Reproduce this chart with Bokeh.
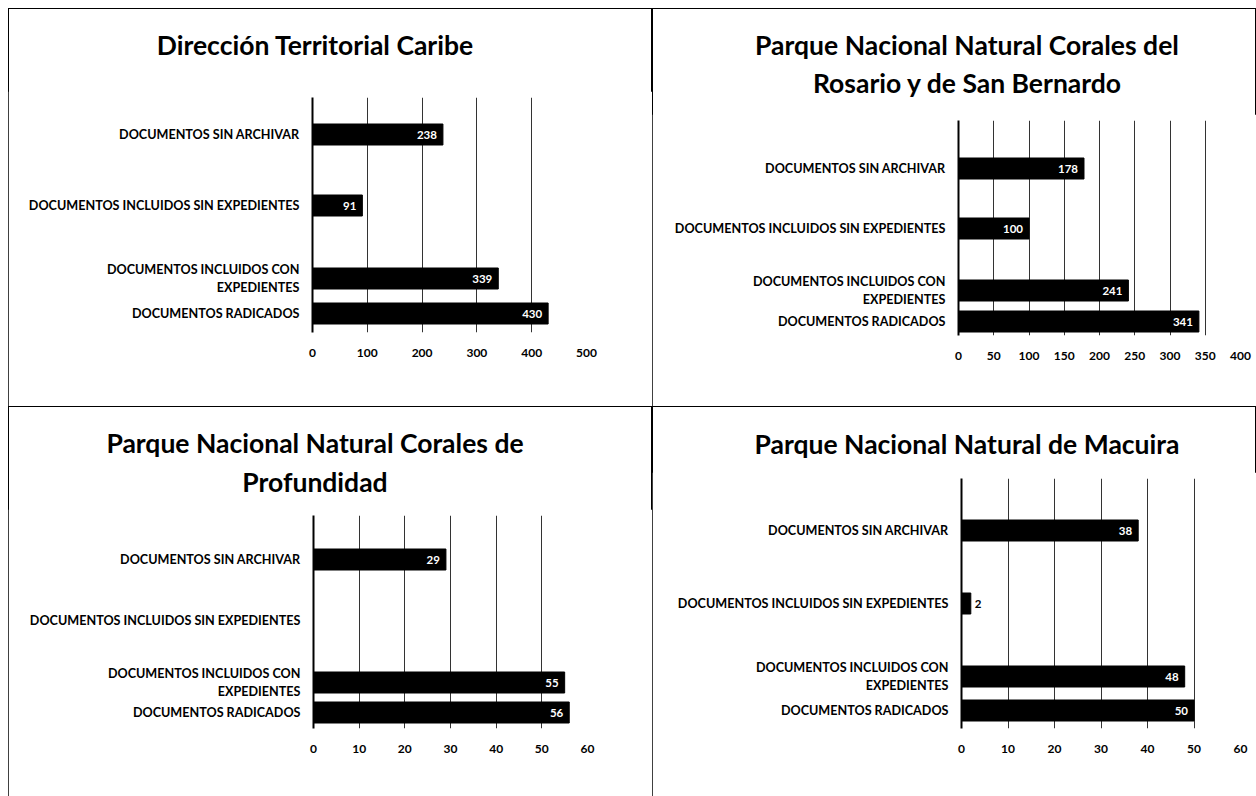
from bokeh.plotting import figure
from bokeh.layouts import column, row
from bokeh.models import Range1d, FixedTicker, ColumnDataSource, Spacer, Div
from bokeh.embed import file_html
from bokeh.resources import INLINE

# ---------------- data ----------------
categories = [
    "DOCUMENTOS SIN ARCHIVAR",
    "DOCUMENTOS INCLUIDOS SIN EXPEDIENTES",
    "DOCUMENTOS INCLUIDOS CON EXPEDIENTES",
    "DOCUMENTOS RADICADOS",
]
category_labels = [
    "DOCUMENTOS SIN ARCHIVAR",
    "DOCUMENTOS INCLUIDOS SIN EXPEDIENTES",
    "DOCUMENTOS INCLUIDOS CON\nEXPEDIENTES",
    "DOCUMENTOS RADICADOS",
]

title_caribe = ["Dirección Territorial Caribe"]
title_rosario = ["Parque Nacional Natural Corales del", "Rosario y de San Bernardo"]
title_profundidad = ["Parque Nacional Natural Corales de", "Profundidad"]
title_macuira = ["Parque Nacional Natural de Macuira"]

values_caribe = [238, 91, 339, 430]
values_rosario = [178, 100, 241, 341]
values_profundidad = [29, 0, 55, 56]
values_macuira = [38, 2, 48, 50]

ticks_caribe = [0, 100, 200, 300, 400, 500]
ticks_rosario = [0, 50, 100, 150, 200, 250, 300, 350, 400]
ticks_profundidad = [0, 10, 20, 30, 40, 50, 60]
ticks_macuira = [0, 10, 20, 30, 40, 50, 60]

# ---------------- layout (pixels) ----------------
FONT = "Lato"


def make_panel(title_lines, values, ticks, width, height, left, right, top, bottom,
               rows, title_cx, title_y0, title_lh):
    div_h = top - 6
    fig_h = height - div_h
    frame_h = fig_h - 6 - bottom
    frame_w = width - left - right
    ppu = frame_w / (ticks[-1] - ticks[0])

    pad_l = max(0, 2 * title_cx - width)
    pad_r = max(0, width - 2 * title_cx)
    html = "<br>".join(title_lines)
    div = Div(text=html, width=width, height=div_h, margin=0,
              styles={"font-family": FONT, "font-weight": "bold",
                      "font-size": "26.5px", "line-height": f"{title_lh}px",
                      "text-align": "center", "white-space": "nowrap",
                      "color": "black", "padding-top": f"{title_y0}px",
                      "padding-left": f"{pad_l}px", "padding-right": f"{pad_r}px",
                      "box-sizing": "border-box", "overflow": "visible"})

    p = figure(width=width, height=fig_h, output_backend="svg",
               toolbar_location=None, margin=0,
               x_range=Range1d(ticks[0], ticks[-1]),
               y_range=Range1d(0, frame_h),
               min_border_left=left, min_border_right=right,
               min_border_top=6, min_border_bottom=bottom)
    p.outline_line_color = None
    p.background_fill_color = "white"
    p.border_fill_color = "white"

    # x axis
    p.xaxis.ticker = FixedTicker(ticks=ticks)
    p.xaxis.axis_line_color = None
    p.xaxis.major_tick_line_color = None
    p.xaxis.minor_tick_line_color = None
    p.xaxis.major_tick_out = 0
    p.xaxis.major_tick_in = 0
    p.xaxis.major_label_standoff = 16
    p.xaxis.major_label_text_font = FONT
    p.xaxis.major_label_text_font_size = "12px"
    p.xaxis.major_label_text_font_style = "bold"
    p.xaxis.major_label_text_color = "black"

    # y axis (categories)
    p.yaxis.ticker = FixedTicker(ticks=rows)
    p.yaxis.major_label_overrides = {r: lab for r, lab in zip(rows, category_labels)}
    p.yaxis.axis_line_color = "black"
    p.yaxis.axis_line_width = 2
    p.yaxis.major_tick_line_color = None
    p.yaxis.minor_tick_line_color = None
    p.yaxis.major_tick_out = 0
    p.yaxis.major_tick_in = 0
    p.yaxis.major_label_standoff = 13
    p.yaxis.major_label_text_font = FONT
    p.yaxis.major_label_text_font_size = "12.6px"
    p.yaxis.major_label_text_font_style = "bold"
    p.yaxis.major_label_text_color = "black"

    # grid
    p.ygrid.grid_line_color = None
    p.xgrid.ticker = FixedTicker(ticks=ticks)
    p.xgrid.grid_line_color = "#333333"
    p.xgrid.grid_line_width = 1

    src = ColumnDataSource(dict(y=rows, v=values, cat=categories))
    p.hbar(y="y", left=0, right="v", height=21, source=src,
           fill_color="black", line_color="black")

    in_y, in_v, in_t, out_y, out_v, out_t = [], [], [], [], [], []
    for r, v in zip(rows, values):
        if v == 0:
            continue
        if v * ppu >= 24:
            in_y.append(r); in_v.append(v); in_t.append(str(v))
        else:
            out_y.append(r); out_v.append(v); out_t.append(str(v))
    p.text(x=in_v, y=in_y, text=in_t, x_offset=-6, text_align="right",
           text_baseline="middle", text_color="white", text_font_size="11.5px",
           text_font_style="bold", text_font={"value": FONT})
    if out_v:
        p.text(x=out_v, y=out_y, text=out_t, x_offset=4, text_align="left",
               text_baseline="middle", text_color="black", text_font_size="11.5px",
               text_font_style="bold", text_font={"value": FONT})

    panel = column(div, p, width=width, height=height, margin=0,
                   styles={"outline": "1px solid black", "outline-offset": "-1px",
                           "background-color": "white"})
    return panel


p1 = make_panel(title_caribe, values_caribe, ticks_caribe, 644, 398,
                304, 66, 89, 74, [198, 127, 54, 19], 307, 18, 38)
p2 = make_panel(title_rosario, values_rosario, ticks_rosario, 604, 398,
                306, 16, 112, 71, [167, 107, 45, 14], 315, 18, 38)
p3 = make_panel(title_profundidad, values_profundidad, ticks_profundidad, 644, 390,
                305, 65, 109, 68, [169, 108, 46, 16], 307, 18, 39)
p4 = make_panel(title_macuira, values_macuira, ticks_macuira, 604, 390,
                309, 16, 72, 68, [198, 125, 52, 18], 315, 19, 38)

grid = column(row(p1, p2), row(p3, p4))
page = column(Spacer(width=1256, height=8), row(Spacer(width=8, height=788), grid))

open("out.html", "w").write(file_html(page, INLINE))
